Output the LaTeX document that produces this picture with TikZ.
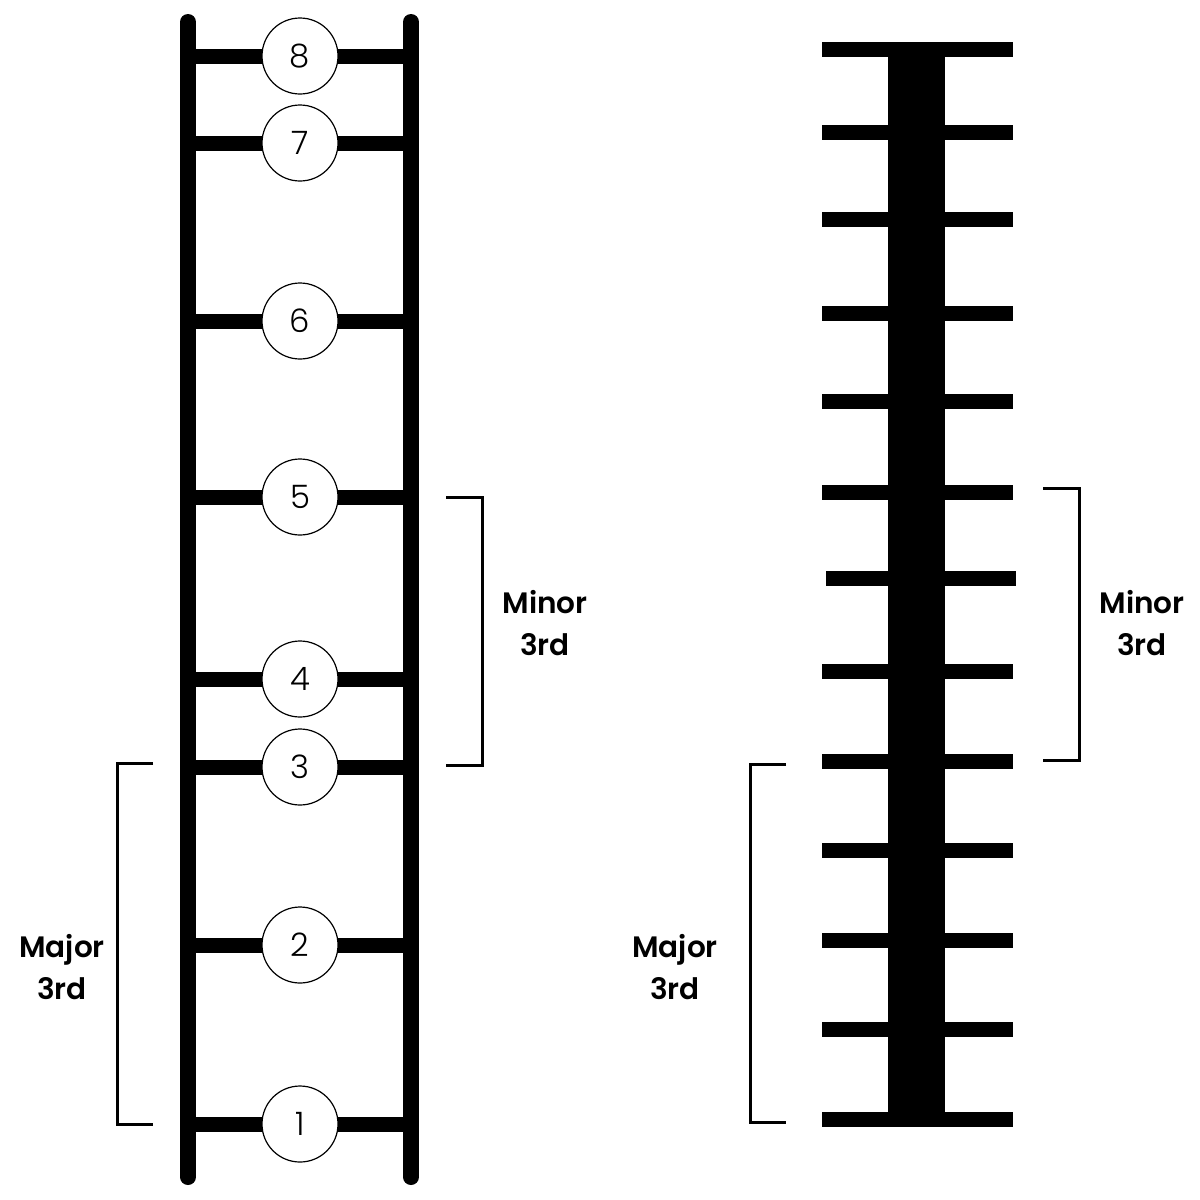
\documentclass[tikz,border=0pt]{standalone}
\usepackage{fontspec}
\setmainfont{Poppins}
\newfontfamily\numfont{Poppins Light}
\newfontfamily\labfont{Poppins SemiBold}
\usepackage{tikz}
\usetikzlibrary{backgrounds}
\newcommand{\railwd}{4mm}
\newcommand{\rungwd}{3.75mm}

\begin{document}
\begin{tikzpicture}[x=0.25mm,y=-0.25mm,
  rail/.style={line width=\railwd, line cap=round},
  rung/.style={line width=\rungwd},
  degree/.style={draw, circle, fill=white, line width=0.3mm, minimum size=19mm, inner sep=0pt, font=\numfont\fontsize{23}{23}\selectfont},
  brack/.style={line width=0.75mm},
  interval/.style={align=center, font=\labfont\fontsize{21}{30}\selectfont}]
\useasboundingbox (0,0) rectangle (1200,1200);

% the ladder
\coordinate (lt) at (188,22);
\coordinate (lb) at (188,1177);
\coordinate (rt) at (411,22);
\coordinate (rb) at (411,1177);
\draw[rail] (lt) -- (lb);
\draw[rail] (rt) -- (rb);

\node (8) at (300,56) [degree] {8};
\node (7) at (300,143) [degree] {7};
\node (6) at (300,321) [degree] {6};
\node (5) at (300,497) [degree] {5};
\node (4) at (300,679) [degree] {4};
\node (3) at (300,767) [degree] {3};
\node (2) at (300,945) [degree] {2};
\node (1) at (300,1124) [degree] {1};

\begin{scope}[on background layer]
\draw[rung]
(8 -| lt) to (8 -| rt)
(7 -| lt) to (7 -| rt)
(6 -| lt) to (6 -| rt)
(5 -| lt) to (5 -| rt)
(4 -| lt) to (4 -| rt)
(3 -| lt) to (3 -| rt)
(2 -| lt) to (2 -| rt)
(1 -| lt) to (1 -| rt);
\end{scope}

\draw[brack] (153,763) -- (117,763) -- (117,1124) -- (153,1124);
\node (majL) at (62,967) [interval] {Major\\3rd};
\draw[brack] (446,497) -- (482,497) -- (482,765) -- (446,765);
\node (minL) at (545,623) [interval] {Minor\\3rd};

% the keyboard stick
\fill (888,45) rectangle (945,1127);
\draw[rung]
(822,49.5) -- (1013,49.5)
(822,132.5) -- (1013,132.5)
(822,219) -- (1013,219)
(822,313) -- (1013,313)
(822,401) -- (1013,401)
(822,492.5) -- (1013,492.5)
(826,578.5) -- (1016,578.5)
(822,671.5) -- (1013,671.5)
(822,761.5) -- (1013,761.5)
(822,850) -- (1013,850)
(822,940.5) -- (1013,940.5)
(822,1029) -- (1013,1029)
(822,1119) -- (1013,1119);

\draw[brack] (1043,488) -- (1079,488) -- (1079,760) -- (1043,760);
\node (minR) at (1142,623) [interval] {Minor\\3rd};
\draw[brack] (786,764) -- (750,764) -- (750,1122) -- (786,1122);
\node (majR) at (675,967) [interval] {Major\\3rd};

\end{tikzpicture}
\end{document}
